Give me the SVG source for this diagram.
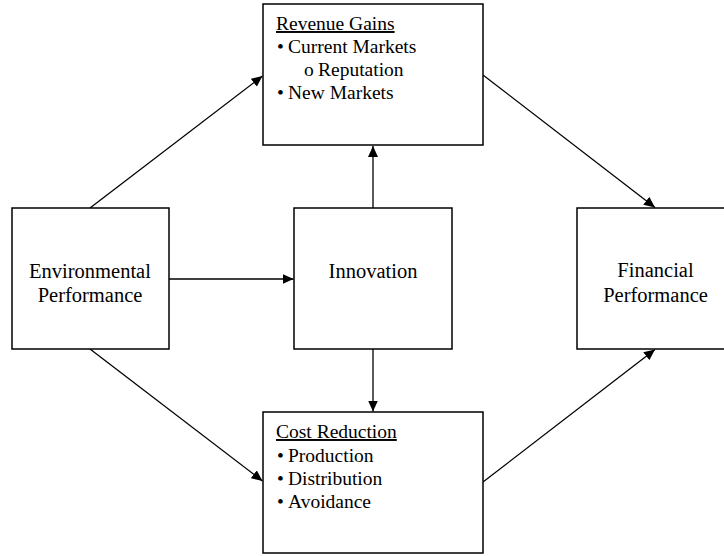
<svg xmlns="http://www.w3.org/2000/svg" width="724" height="556" viewBox="0 0 724 556">
<style>
.box{fill:#fff;stroke:#000;stroke-width:1.5}
.t{font-family:"Liberation Serif","Times New Roman",serif;font-size:19.5px;fill:#000}
.big{font-size:20.5px}
.c{text-anchor:middle}
.u{text-decoration:underline}
.ln{stroke:#000;stroke-width:1.3;fill:none;marker-end:url(#ah)}
</style>
<defs>
<marker id="ah" markerUnits="userSpaceOnUse" markerWidth="12" markerHeight="10" refX="11" refY="5" orient="auto">
<path d="M0,0 L11,5 L0,10 Z" fill="#000"/>
</marker>
</defs>
<rect width="724" height="556" fill="#fff"/>
<g id="connectors">
<line class="ln" x1="90" y1="208" x2="262.5" y2="76"/>
<line class="ln" x1="90" y1="349" x2="262.5" y2="481"/>
<line class="ln" x1="169" y1="279" x2="293.5" y2="279"/>
<line class="ln" x1="373" y1="208" x2="373" y2="146"/>
<line class="ln" x1="373" y1="349" x2="373" y2="411.5"/>
<line class="ln" x1="483" y1="75" x2="655" y2="207.5"/>
<line class="ln" x1="483" y1="482" x2="655" y2="349.5"/>
</g>
<g id="env">
<rect class="box" x="12" y="208" width="157" height="141"/>
<text class="t big c" x="90" y="278">Environmental</text>
<text class="t big c" x="90" y="302">Performance</text>
</g>
<g id="innovation">
<rect class="box" x="294" y="208" width="158" height="141"/>
<text class="t big c" x="373" y="278">Innovation</text>
</g>
<g id="financial">
<rect class="box" x="577" y="208" width="157" height="141"/>
<text class="t big c" x="655.5" y="277">Financial</text>
<text class="t big c" x="655.5" y="302">Performance</text>
</g>
<g id="revenue">
<rect class="box" x="263" y="4" width="220" height="141"/>
<text class="t u" x="276" y="30">Revenue Gains</text>
<text class="t" x="277" y="53">•</text>
<text class="t" x="288" y="53">Current Markets</text>
<text class="t" x="304" y="76">o</text>
<text class="t" x="318" y="76">Reputation</text>
<text class="t" x="277" y="99">•</text>
<text class="t" x="288" y="99">New Markets</text>
</g>
<g id="cost">
<rect class="box" x="263" y="412" width="220" height="141"/>
<text class="t u" x="276" y="438">Cost Reduction</text>
<text class="t" x="277" y="462">•</text>
<text class="t" x="288" y="462">Production</text>
<text class="t" x="277" y="485">•</text>
<text class="t" x="288" y="485">Distribution</text>
<text class="t" x="277" y="508">•</text>
<text class="t" x="288" y="508">Avoidance</text>
</g>
</svg>
